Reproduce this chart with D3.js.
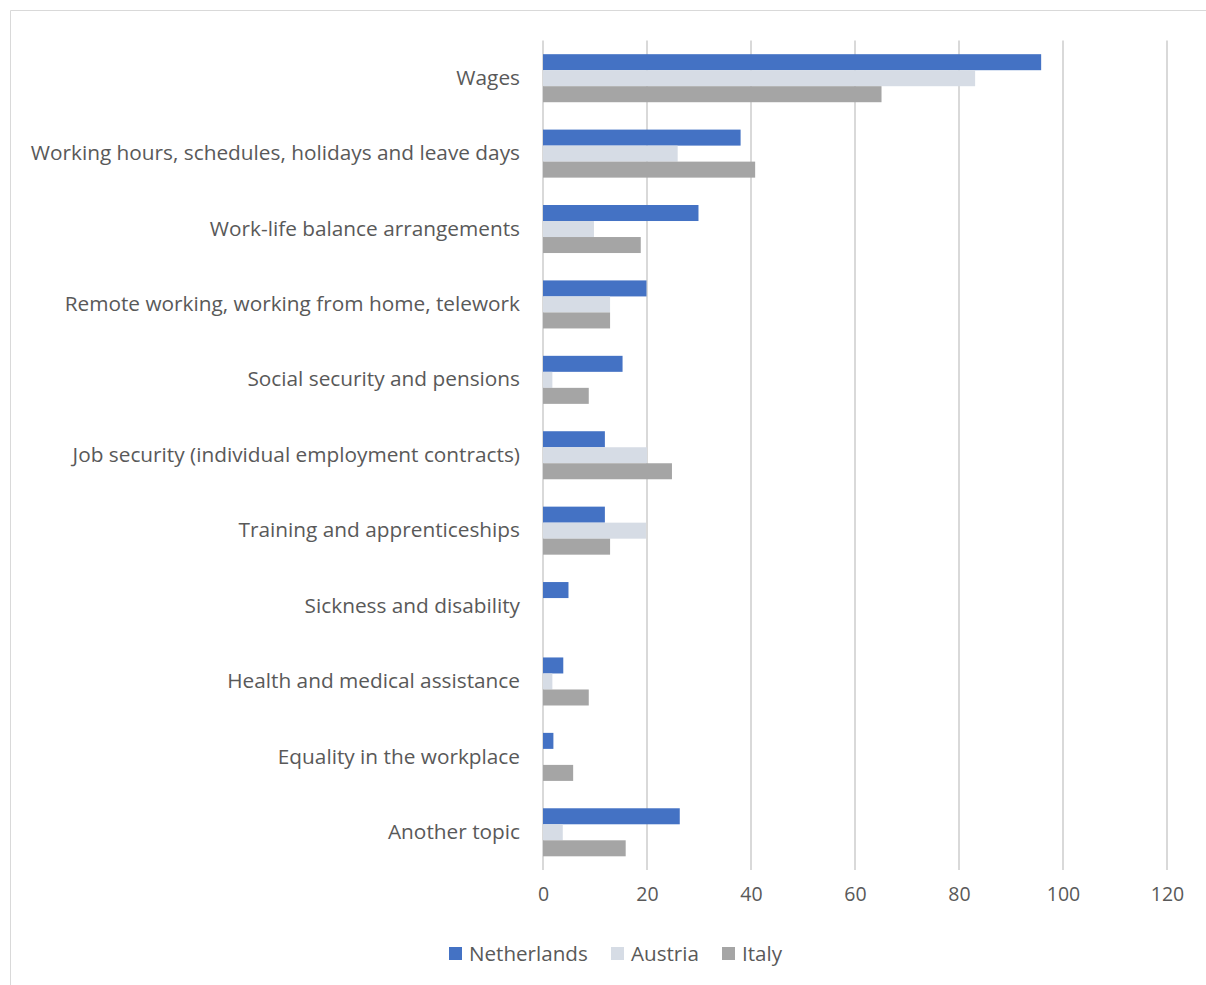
<!DOCTYPE html>
<html>
<head>
<meta charset="utf-8">
<script src="https://cdn.jsdelivr.net/npm/d3@7"></script>
<style>
  html, body { margin: 0; padding: 0; background: #fff; }
  svg { display: block; }
  text { font-family: "Open Sans", "Noto Sans", sans-serif; fill: #595959; }
</style>
</head>
<body>
<div id="chart"></div>
<script>
// Topics discussed, share of respondents by country
const categories = [
  "Wages",
  "Working hours, schedules, holidays and leave days",
  "Work-life balance arrangements",
  "Remote working, working from home, telework",
  "Social security and pensions",
  "Job security (individual employment contracts)",
  "Training and apprenticeships",
  "Sickness and disability",
  "Health and medical assistance",
  "Equality in the workplace",
  "Another topic"
];
const seriesNames = ["Netherlands", "Austria", "Italy"];
const netherlands = [95.8, 38.0, 29.9, 19.9, 15.3, 11.9, 11.9, 4.9, 3.9, 2.0, 26.3];
const austria     = [83.1, 25.9, 9.8, 12.9, 1.8, 20.0, 19.8, 0, 1.8, 0, 3.8];
const italy       = [65.1, 40.8, 18.8, 12.9, 8.8, 24.8, 12.9, 0, 8.8, 5.8, 15.9];
const xTicks = [0, 20, 40, 60, 80, 100, 120];
const colors = ["#4472c4", "#d6dce5", "#a5a5a5"];

const values = [netherlands, austria, italy];
const W = 1206, H = 985;
const margin = { top: 40.5, left: 543, right: 39, bottom: 115 };

const svg = d3.select("#chart").append("svg")
  .attr("width", W).attr("height", H);

// chart area frame
svg.append("path")
  .attr("d", `M10.5,${H} V10.5 H${W}`)
  .attr("fill", "none").attr("stroke", "#d9d9d9").attr("stroke-width", 1);

const x = d3.scaleLinear().domain([0, 120])
  .range([margin.left, margin.left + 624]);
const y = d3.scaleBand().domain(categories)
  .range([margin.top, H - margin.bottom])
  .paddingInner(0.363).paddingOuter(0.1815);
const ySub = d3.scaleBand().domain(seriesNames).range([0, y.bandwidth()]);

// vertical gridlines
svg.append("g").selectAll("line").data(xTicks).join("line")
  .attr("x1", d => x(d)).attr("x2", d => x(d))
  .attr("y1", margin.top).attr("y2", H - margin.bottom)
  .attr("stroke", "#d9d9d9").attr("stroke-width", 2);

// bars
const groups = svg.append("g").selectAll("g").data(categories).join("g")
  .attr("transform", c => `translate(0,${y(c)})`);
groups.selectAll("rect")
  .data((c, i) => seriesNames.map((s, j) => ({ s, j, v: values[j][i] })))
  .join("rect")
  .attr("x", x(0))
  .attr("y", d => ySub(d.s))
  .attr("height", ySub.bandwidth())
  .attr("width", d => x(d.v) - x(0))
  .attr("fill", d => colors[d.j]);

// category labels
const yAxis = d3.axisLeft(y).tickSize(0).tickPadding(0);
svg.append("g").attr("transform", `translate(${margin.left - 23},0)`)
  .call(yAxis)
  .call(g => g.select(".domain").remove())
  .selectAll("text")
  .style("font-size", "20.8px")
  .style("font-family", "'Open Sans', sans-serif")
  .attr("fill", "#595959");

// value axis labels
const xAxis = d3.axisBottom(x).tickValues(xTicks).tickSize(0).tickPadding(0);
svg.append("g").attr("transform", `translate(0,${H - margin.bottom + 17})`)
  .call(xAxis)
  .call(g => g.select(".domain").remove())
  .selectAll("text")
  .style("font-size", "19.5px")
  .style("font-family", "'Open Sans', sans-serif")
  .attr("fill", "#595959");

// legend
const legendX = [449, 611, 722];
const legend = svg.append("g").selectAll("g").data(seriesNames).join("g")
  .attr("transform", (d, i) => `translate(${legendX[i]},947)`);
legend.append("rect").attr("width", 13).attr("height", 13)
  .attr("fill", (d, i) => colors[i]);
legend.append("text").attr("x", 20).attr("y", 6.5).attr("dy", "0.35em")
  .style("font-size", "20.6px").text(d => d);
</script>
</body>
</html>
